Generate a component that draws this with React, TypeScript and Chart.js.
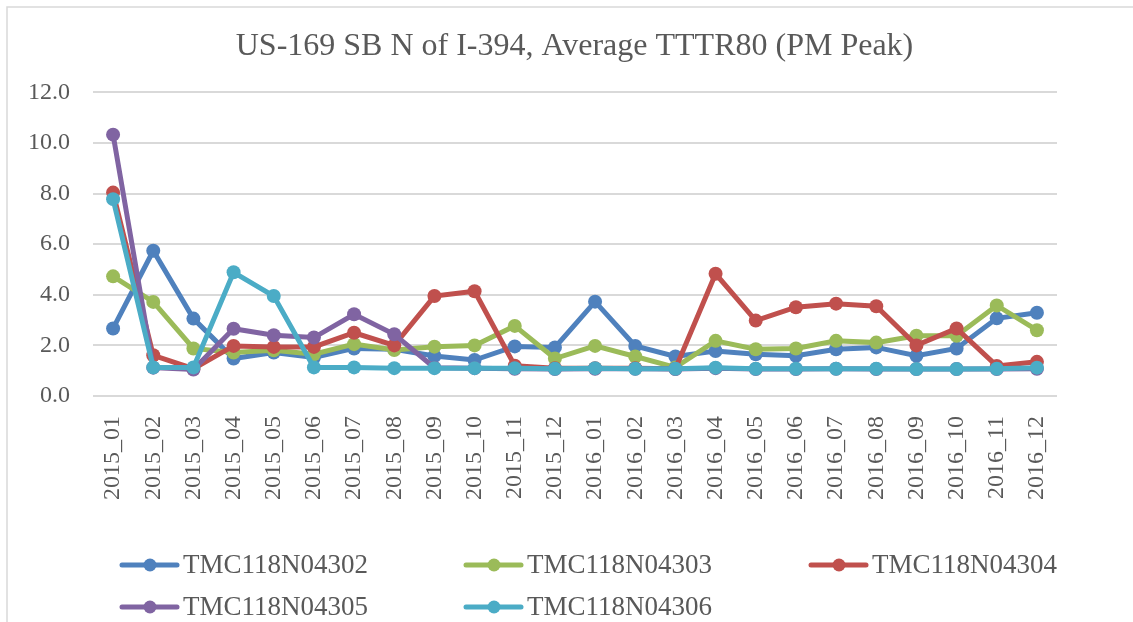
import React, { useEffect, useRef } from "react";
import { Chart, registerables } from "chart.js";

Chart.register(...registerables);

const categories = [
  "2015_01", "2015_02", "2015_03", "2015_04", "2015_05", "2015_06",
  "2015_07", "2015_08", "2015_09", "2015_10", "2015_11", "2015_12",
  "2016_01", "2016_02", "2016_03", "2016_04", "2016_05", "2016_06",
  "2016_07", "2016_08", "2016_09", "2016_10", "2016_11", "2016_12",
];

const seriesNames = ["TMC118N04302", "TMC118N04303", "TMC118N04304", "TMC118N04305", "TMC118N04306"];

const tmc04302 = [2.67, 5.74, 3.06, 1.48, 1.72, 1.52, 1.88, 1.85, 1.58, 1.42, 1.96, 1.92, 3.73, 1.98, 1.56, 1.78, 1.65, 1.59, 1.85, 1.92, 1.59, 1.88, 3.07, 3.29];
const tmc04303 = [4.73, 3.72, 1.88, 1.72, 1.81, 1.65, 2.05, 1.82, 1.95, 2.0, 2.77, 1.48, 1.98, 1.56, 1.13, 2.18, 1.85, 1.88, 2.18, 2.11, 2.38, 2.38, 3.58, 2.6];
const tmc04304 = [8.04, 1.61, 1.08, 1.98, 1.94, 1.94, 2.5, 2.0, 3.95, 4.14, 1.2, 1.1, 1.1, 1.1, 1.08, 4.83, 2.98, 3.51, 3.65, 3.55, 2.0, 2.67, 1.19, 1.35];
const tmc04305 = [10.33, 1.12, 1.05, 2.66, 2.4, 2.31, 3.23, 2.44, 1.12, 1.1, 1.08, 1.07, 1.08, 1.08, 1.07, 1.1, 1.07, 1.07, 1.08, 1.07, 1.07, 1.07, 1.07, 1.08];
const tmc04306 = [7.78, 1.13, 1.13, 4.89, 3.95, 1.13, 1.13, 1.1, 1.1, 1.1, 1.1, 1.08, 1.1, 1.08, 1.08, 1.12, 1.08, 1.08, 1.08, 1.08, 1.07, 1.07, 1.08, 1.12];

const seriesValues = [tmc04302, tmc04303, tmc04304, tmc04305, tmc04306];
const seriesColors = ["#4F81BD", "#9BBB59", "#C0504D", "#8064A2", "#4BACC6"];

const titleText = "US-169 SB N of I-394, Average TTTR80 (PM Peak)";
const yMin = 0;
const yMax = 12;
const yStep = 2;

const FONT = "'Liberation Serif', 'DejaVu Serif', serif";
const TEXT_COLOR = "#595959";

const frameAndLegend = {
  id: "frameAndLegend",
  beforeDraw(chart: any) {
    const ctx = chart.ctx;
    ctx.save();
    ctx.fillStyle = "#ffffff";
    ctx.fillRect(0, 0, chart.width, chart.height);
    ctx.strokeStyle = "#d9d9d9";
    ctx.lineWidth = 1.5;
    ctx.strokeRect(7, 7, chart.width + 50, chart.height + 50);
    ctx.restore();
  },
  afterDraw(chart: any) {
    const ctx = chart.ctx;
    ctx.save();
    const colX = [122, 466, 811];
    const rowY = [565, 607];
    chart.data.datasets.forEach((ds: any, i: number) => {
      const x = colX[i % 3];
      const y = rowY[Math.floor(i / 3)];
      ctx.strokeStyle = ds.borderColor;
      ctx.lineWidth = 5;
      ctx.lineCap = "round";
      ctx.beginPath();
      ctx.moveTo(x, y);
      ctx.lineTo(x + 55, y);
      ctx.stroke();
      ctx.fillStyle = ds.borderColor;
      ctx.beginPath();
      ctx.arc(x + 28, y, 6.5, 0, Math.PI * 2);
      ctx.fill();
      ctx.fillStyle = TEXT_COLOR;
      ctx.font = `27px ${FONT}`;
      ctx.textBaseline = "middle";
      ctx.textAlign = "left";
      ctx.fillText(ds.label, x + 61, y + 1);
    });
    ctx.restore();
  },
};

export default function App() {
  const ref = useRef<HTMLCanvasElement | null>(null);

  useEffect(() => {
    document.body.style.margin = "0";
    if (!ref.current) return;
    const datasets = seriesNames.map((name, i) => ({
      label: name,
      data: seriesValues[i],
      borderColor: seriesColors[i],
      backgroundColor: seriesColors[i],
      pointBackgroundColor: seriesColors[i],
      pointBorderColor: seriesColors[i],
      borderWidth: 5,
      pointRadius: 7,
      pointBorderWidth: 0,
      tension: 0,
      fill: false,
      yAxisID: "y",
      order: seriesNames.length - i,
    }));
    const chart = new Chart(ref.current, {
      type: "line",
      data: { labels: categories, datasets },
      plugins: [frameAndLegend],
      options: {
        responsive: false,
        animation: false,
        layout: { padding: { left: 16, right: 0, top: 0, bottom: 96 } },
        plugins: {
          legend: { display: false },
          tooltip: { enabled: false },
          title: {
            display: true,
            text: titleText,
            color: TEXT_COLOR,
            font: { family: FONT, size: 32, weight: "normal" },
            padding: { top: 27, bottom: 27 },
          },
        },
        scales: {
          x: {
            offset: true,
            grid: { display: false, drawTicks: false, offset: true },
            border: { display: false },
            ticks: {
              autoSkip: false,
              minRotation: 90,
              maxRotation: 90,
              padding: 20,
              color: TEXT_COLOR,
              font: { family: FONT, size: 24 },
            },
            afterFit(scale: any) {
              scale.height = 130;
            },
          },
          y: {
            min: yMin,
            max: yMax,
            grid: { color: "#d9d9d9", lineWidth: 2, drawTicks: false },
            border: { display: false },
            ticks: {
              stepSize: yStep,
              padding: 23,
              color: TEXT_COLOR,
              font: { family: FONT, size: 24 },
              callback: (v: any) => Number(v).toFixed(1),
            },
            afterFit(scale: any) {
              scale.width = 77;
            },
          },
          yRight: {
            position: "right",
            min: yMin,
            max: yMax,
            grid: { display: false, drawTicks: false },
            border: { display: false },
            ticks: { display: false },
            afterFit(scale: any) {
              scale.width = 76;
            },
          },
        },
      },
    });
    return () => chart.destroy();
  }, []);

  return (
    <div style={{ position: "fixed", left: 0, top: 0, width: 1133, height: 622 }}>
      <canvas ref={ref} width={1133} height={622} />
    </div>
  );
}
